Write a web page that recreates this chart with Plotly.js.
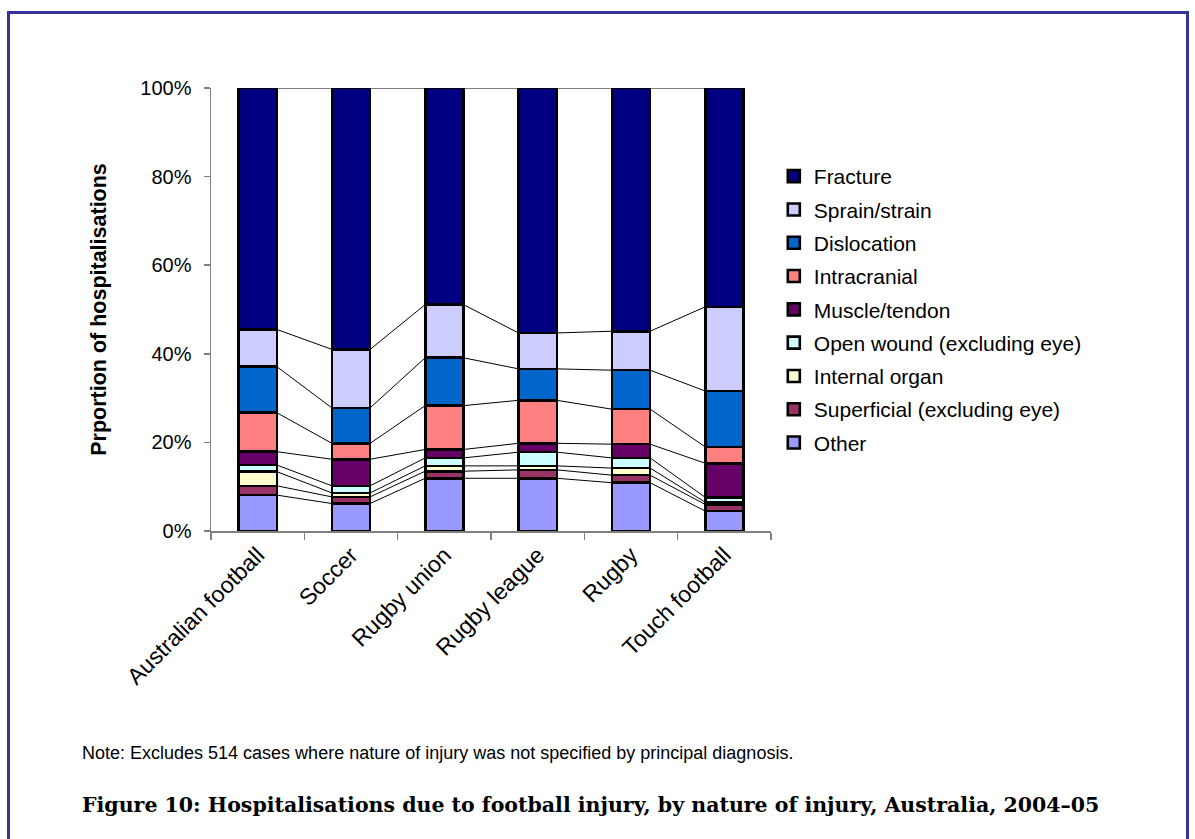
<!DOCTYPE html>
<html>
<head>
<meta charset="utf-8">
<script src="https://cdn.plot.ly/plotly-3.0.1.min.js"></script>
<style>
  html, body { margin: 0; padding: 0; background: #fff; }
  #wrap { position: relative; width: 1195px; height: 839px; overflow: hidden; }
  #chart { position: absolute; left: 0; top: 0; width: 1195px; height: 839px; }
  #frame { position: absolute; left: 7px; top: 11px; width: 1176px; height: 840px;
           border: 3px solid #333399; pointer-events: none; }
</style>
</head>
<body>
<div id="wrap">
  <div id="chart"></div>
  <div id="frame"></div>
</div>
<script>
const categories = ["Australian football", "Soccer", "Rugby union", "Rugby league", "Rugby", "Touch football"];

// Percent of hospitalisations, bottom segment first
const other         = [8.1, 6.2, 11.9, 11.9, 10.9, 4.5];
const superficial   = [2.1, 1.5, 1.6, 1.9, 1.7, 1.5];
const internalOrgan = [3.2, 0.9, 1.2, 0.9, 1.6, 0.5];
const openWound     = [1.5, 1.6, 1.8, 3.1, 2.3, 1.1];
const muscleTendon  = [3.0, 6.0, 1.9, 2.0, 3.1, 7.7];
const intracranial  = [8.8, 3.6, 9.9, 9.7, 7.9, 3.7];
const dislocation   = [10.4, 8.0, 10.8, 7.1, 8.8, 12.6];
const sprainStrain  = [8.4, 13.2, 12.0, 8.1, 8.8, 19.0];
const fracture      = [54.5, 59.0, 48.9, 55.3, 54.9, 49.4];

const seriesNames = ["Other", "Superficial (excluding eye)", "Internal organ", "Open wound (excluding eye)",
  "Muscle/tendon", "Intracranial", "Dislocation", "Sprain/strain", "Fracture"];
const seriesValues = [other, superficial, internalOrgan, openWound, muscleTendon, intracranial, dislocation, sprainStrain, fracture];
const seriesColors = ["#9999FF", "#993366", "#FFFFCC", "#CCFFFF", "#660066", "#FF8080", "#0066CC", "#CCCCFF", "#000080"];

const yTickVals = [0, 20, 40, 60, 80, 100];
const yTickText = ["0%", "20%", "40%", "60%", "80%", "100%"];

const barWidth = 0.41;
const xIdx = categories.map((_, i) => i);
const FONT = "Liberation Sans, Arial, sans-serif";

const traces = [];
const cum = categories.map(() => 0);
seriesNames.forEach((name, s) => {
  const vals = seriesValues[s];
  traces.push({
    type: "bar", name: name, x: xIdx, y: vals, width: barWidth, legendgroup: "g" + s,
    legendrank: 1000 - s,
    marker: { color: seriesColors[s], line: { color: "#000000", width: 2.6 } },
    hoverinfo: "name+y"
  });
  // series lines connecting segment tops between bars
  const tops = vals.map((v, i) => (cum[i] += v));
  const lx = [], ly = [];
  for (let i = 0; i < categories.length - 1; i++) {
    lx.push(i + barWidth / 2, i + 1 - barWidth / 2, null);
    ly.push(tops[i], tops[i + 1], null);
  }
  traces.push({
    type: "scatter", mode: "lines", x: lx, y: ly, showlegend: false, hoverinfo: "skip",
    legendgroup: "g" + s, legendrank: 1000 - s,
    line: { color: "#000000", width: 1 }, connectgaps: false
  });
});

const layout = {
  width: 1195, height: 839,
  margin: { l: 211, r: 424, t: 88, b: 308 },
  paper_bgcolor: "rgba(0,0,0,0)", plot_bgcolor: "rgba(0,0,0,0)",
  barmode: "stack",
  font: { family: FONT, color: "#000000", size: 18 },
  showlegend: true,
  legend: {
    x: 1.005, xanchor: "left", y: 0.8465, yanchor: "top",
    traceorder: "grouped", tracegroupgap: 3,
    font: { family: FONT, size: 21, color: "#000" },
    bgcolor: "rgba(0,0,0,0)"
  },
  xaxis: {
    range: [-0.5, 5.5], tickmode: "array", tickvals: xIdx, ticktext: categories,
    tickangle: -45, ticks: "", showgrid: false, zeroline: false,
    showline: true, linecolor: "#808080", linewidth: 1.5,
    tickfont: { family: FONT, size: 23, color: "#000" },
    minor: { tickmode: "array", tickvals: [-0.5, 0.5, 1.5, 2.5, 3.5, 4.5, 5.5], ticks: "outside", ticklen: 7, tickcolor: "#808080", tickwidth: 1.5, showgrid: false },
    fixedrange: true
  },
  yaxis: {
    range: [0, 100], tickmode: "array", tickvals: yTickVals, ticktext: yTickText,
    ticks: "outside", ticklen: 6, tickcolor: "#808080", tickwidth: 1.5,
    showline: true, linecolor: "#808080", linewidth: 1.5,
    showgrid: false, zeroline: false, ticklabelstandoff: 8,
    tickfont: { family: FONT, size: 20, color: "#000" },
    title: { text: "<b>Prportion of hospitalisations</b>", font: { family: FONT, size: 21.5, color: "#000" }, standoff: 28 },
    fixedrange: true
  },
  annotations: [
    { xref: "paper", yref: "paper", x: -0.234, y: -0.501, xanchor: "left", yanchor: "middle",
      text: "Note: Excludes 514 cases where nature of injury was not specified by principal diagnosis.",
      showarrow: false, font: { family: FONT, size: 18, color: "#000" } },
    { xref: "paper", yref: "paper", x: -0.234, y: -0.6185, xanchor: "left", yanchor: "middle",
      text: "<b>Figure 10: Hospitalisations due to football injury, by nature of injury, Australia, 2004–05</b>",
      showarrow: false, font: { family: "DejaVu Serif, Liberation Serif, serif", size: 20.5, color: "#000" } }
  ]
};

Plotly.newPlot("chart", traces, layout, { displayModeBar: false, staticPlot: true });
</script>
</body>
</html>
